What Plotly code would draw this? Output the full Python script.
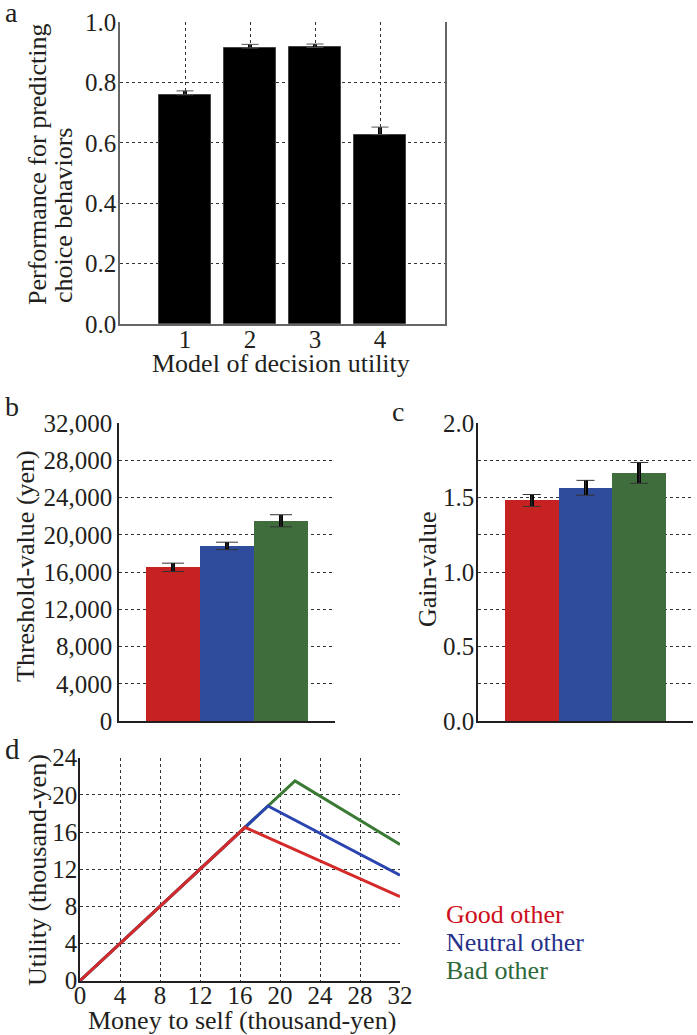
import plotly.graph_objects as go

# ---------------- data ----------------
a_models = [1, 2, 3, 4]
a_perf = [0.759, 0.914, 0.916, 0.627]
a_err = [0.013, 0.012, 0.011, 0.025]
a_err_minus = [0, 0, 0, 0]
a_yticks = [0.0, 0.2, 0.4, 0.6, 0.8, 1.0]

conditions = ["Good other", "Neutral other", "Bad other"]
cond_pos = [0, 1, 2]
b_threshold = [16500, 18800, 21500]
b_err = [450, 400, 650]
b_yticks = [0, 4000, 8000, 12000, 16000, 20000, 24000, 28000, 32000]

c_gain = [1.48, 1.565, 1.665]
c_err = [0.04, 0.05, 0.07]
c_ytick_vals = [0.0, 0.25, 0.5, 0.75, 1.0, 1.25, 1.5, 1.75, 2.0]
c_ytick_text = ["0.0", "", "0.5", "", "1.0", "", "1.5", "", "2.0"]

d_x_good = [0, 16.5, 32]
d_y_good = [0, 16.5, 9.05]
d_x_neutral = [0, 18.8, 32]
d_y_neutral = [0, 18.8, 11.35]
d_x_bad = [0, 21.5, 32]
d_y_bad = [0, 21.5, 14.65]
d_xticks = [0, 4, 8, 12, 16, 20, 24, 28, 32]
d_yticks = [0, 4, 8, 12, 16, 20, 24]

# ---------------- styling ----------------
W, H = 697, 1035
FONT = "Liberation Serif"
TXT = "#231f20"
bar_colors = ["#c62221", "#2f4b9b", "#3f6e3c"]
line_colors = ["#d42a2a", "#2b45b0", "#3b7a35"]
legend_colors = ["#cc1020", "#26318a", "#2e6a3a"]
GRID = "#333333"


def px(x):
    return x / W


def py(y):
    return 1 - y / H


fig = go.Figure()

# ---- panel a ----
fig.add_trace(go.Bar(x=a_models, y=a_perf, width=0.8, marker=dict(color="black", line=dict(color="#444", width=1)),
                     error_y=dict(type="data", array=a_err, thickness=4, width=0, color="black"),
                     xaxis="x", yaxis="y", showlegend=False))
fig.add_trace(go.Scatter(x=a_models, y=a_perf, mode="markers", marker=dict(size=1, color="rgba(0,0,0,0)"),
                         error_y=dict(type="data", array=a_err, arrayminus=a_err_minus, symmetric=False,
                                      thickness=1, width=8.5, color="#555"),
                         xaxis="x", yaxis="y", showlegend=False, hoverinfo="skip"))

# ---- panel b ----
fig.add_trace(go.Bar(x=cond_pos, y=b_threshold, width=1.0, marker=dict(color=bar_colors, line=dict(width=0)),
                     error_y=dict(type="data", array=b_err, thickness=4, width=0, color="black"),
                     xaxis="x2", yaxis="y2", showlegend=False))
fig.add_trace(go.Scatter(x=cond_pos, y=b_threshold, mode="markers", marker=dict(size=1, color="rgba(0,0,0,0)"),
                         error_y=dict(type="data", array=b_err, thickness=1, width=11, color="#333"),
                         xaxis="x2", yaxis="y2", showlegend=False, hoverinfo="skip"))

# ---- panel c ----
fig.add_trace(go.Bar(x=cond_pos, y=c_gain, width=1.0, marker=dict(color=bar_colors, line=dict(width=0)),
                     error_y=dict(type="data", array=c_err, thickness=4, width=0, color="black"),
                     xaxis="x3", yaxis="y3", showlegend=False))
fig.add_trace(go.Scatter(x=cond_pos, y=c_gain, mode="markers", marker=dict(size=1, color="rgba(0,0,0,0)"),
                         error_y=dict(type="data", array=c_err, thickness=1, width=9, color="#333"),
                         xaxis="x3", yaxis="y3", showlegend=False, hoverinfo="skip"))

# ---- panel d ---- (draw bad, neutral, good so red is on top)
for xs, ys, col, name in [(d_x_bad, d_y_bad, line_colors[2], conditions[2]),
                          (d_x_neutral, d_y_neutral, line_colors[1], conditions[1]),
                          (d_x_good, d_y_good, line_colors[0], conditions[0])]:
    fig.add_trace(go.Scatter(x=xs, y=ys, mode="lines", line=dict(color=col, width=3), name=name,
                             xaxis="x4", yaxis="y4", showlegend=False))

tickfont = dict(family=FONT, size=25, color=TXT)
grid = dict(showgrid=True, gridcolor=GRID, gridwidth=1, griddash="dot", automargin=False, ticks="", ticklen=0)
nogrid = dict(showgrid=False, automargin=False, ticks="", ticklen=0)

fig.update_layout(
    template="none",
    width=W, height=H, autosize=False,
    margin=dict(l=0, r=0, t=0, b=0, pad=0),
    paper_bgcolor="white", plot_bgcolor="white",
    font=dict(family=FONT, color=TXT),
    bargap=0,
    xaxis=dict(domain=[px(120), px(445)], range=[0, 5], tickvals=a_models, tickfont=tickfont,
               showline=True, linecolor="#666", linewidth=1.5, zeroline=False, anchor="y",
               ticklabelstandoff=-8, **grid),
    yaxis=dict(domain=[py(324), py(22)], range=[0, 1], tickvals=a_yticks, tickformat=".1f",
               tickfont=tickfont, showline=True, mirror=True, linecolor="#666", linewidth=1.5,
               zeroline=False, anchor="x", ticklabelstandoff=-3, **grid),
    xaxis2=dict(domain=[px(119), px(335)], range=[-1, 3], showticklabels=False,
                showline=True, linecolor=TXT, linewidth=1.5, zeroline=False, anchor="y2", **nogrid),
    yaxis2=dict(domain=[py(721), py(423)], range=[0, 32000], tickvals=b_yticks, tickformat=",",
                tickfont=tickfont, showline=True, linecolor=TXT, linewidth=1.5, zeroline=False, anchor="x2",
                ticklabelstandoff=0, **grid),
    xaxis3=dict(domain=[px(478), px(693)], range=[-1, 3], showticklabels=False,
                showline=True, linecolor=TXT, linewidth=1.5, zeroline=False, anchor="y3", **nogrid),
    yaxis3=dict(domain=[py(721), py(423)], range=[0, 2], tickvals=c_ytick_vals, ticktext=c_ytick_text,
                tickfont=tickfont, showline=True, linecolor=TXT, linewidth=1.5, zeroline=False, anchor="x3",
                ticklabelstandoff=-3, **grid),
    xaxis4=dict(domain=[px(80), px(400)], range=[0, 32], tickvals=d_xticks, tickfont=tickfont,
                showline=True, linecolor=TXT, linewidth=1.5, zeroline=False, anchor="y4",
                ticklabelstandoff=-8, **grid),
    yaxis4=dict(domain=[py(980.7), py(757.7)], range=[0, 24], tickvals=d_yticks, tickfont=tickfont,
                showline=True, linecolor=TXT, linewidth=1.5, zeroline=False, anchor="x4",
                ticklabelstandoff=-4, **grid),
)

ann = []


def add_text(text, x, y, size=26, angle=0, color=TXT, xanchor="center", yanchor="middle"):
    ann.append(dict(text=text, x=px(x), y=py(y), xref="paper", yref="paper", showarrow=False,
                    textangle=angle, xanchor=xanchor, yanchor=yanchor,
                    font=dict(family=FONT, size=size, color=color)))


# panel letters
add_text("a", 11, 12, size=28)
add_text("b", 12, 406, size=28)
add_text("c", 398, 411, size=28)
add_text("d", 12, 749, size=29)

# axis titles
add_text("Performance for predicting", 38, 164, angle=-90)
add_text("choice behaviors", 63, 216, angle=-90)
add_text("Model of decision utility", 281, 364)
add_text("Threshold-value (yen)", 25, 566, angle=-90)
add_text("Gain-value", 427, 569, angle=-90)
add_text("Utility (thousand-yen)", 37, 870, angle=-90)
add_text("Money to self (thousand-yen)", 242, 1020)

# legend for panel d
for i, (name, col) in enumerate(zip(conditions, legend_colors)):
    add_text(name, 444, 914 + 28.3 * i, color=col, xanchor="left")

fig.update_layout(annotations=ann)
fig.write_html("out.html", config={"displayModeBar": False},
               post_script="document.body.style.margin='0';document.body.style.padding='0';"
                           "document.documentElement.style.overflow='hidden';")
